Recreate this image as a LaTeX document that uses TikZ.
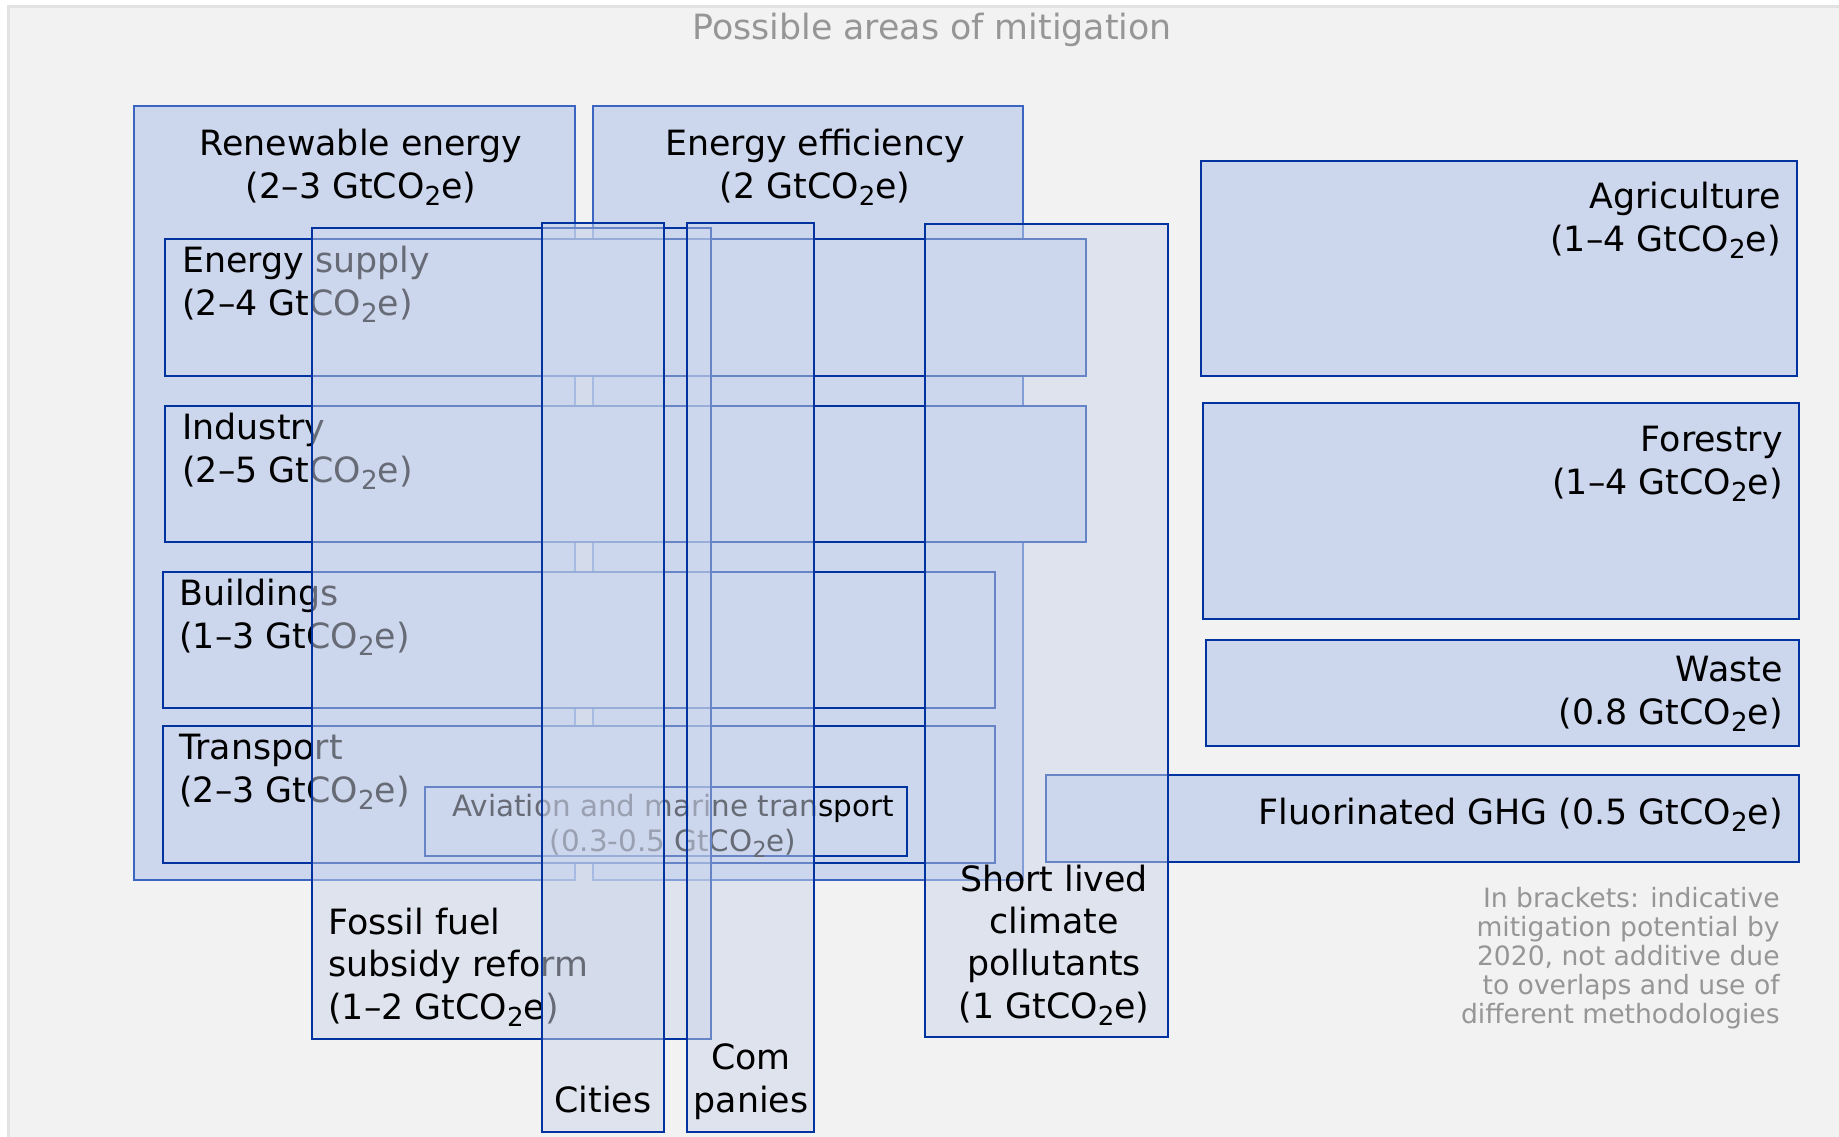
\documentclass[tikz,border=0pt]{standalone}
\usepackage{fontspec}
\usepackage{graphicx}
\setmainfont{DejaVu Sans}
\usetikzlibrary{fit,positioning}

\definecolor{boxfill}{RGB}{204,214,236}
\definecolor{boxline}{RGB}{0,51,160}
\definecolor{outerline}{RGB}{58,102,194}
\definecolor{pagegray}{RGB}{242,242,242}
\definecolor{pageline}{RGB}{226,226,226}
\definecolor{notegray}{RGB}{150,150,150}

\newcommand{\gtco}{GtCO\raisebox{-0.22em}{\scalebox{0.75}{2}}e}

\tikzset{
	area/.style={rectangle, draw=boxline, line width=1.35pt, fill=boxfill, inner sep=0pt},
	outerarea/.style={area, draw=outerline},
	crossarea/.style={area, fill opacity=0.5},
	lbl/.style={inner sep=0pt, text=black, font=\fontsize{17.4}{21.1}\selectfont},
	smalllbl/.style={lbl, font=\fontsize{14.7}{17.5}\selectfont},
	note/.style={inner sep=0pt, text=notegray, font=\fontsize{13.3}{14.5}\selectfont}
}

\begin{document}
\begin{tikzpicture}[x=0.5pt, y=-0.5pt]
	\useasboundingbox (0,0) rectangle (1839,1136);
	\fill[white] (0,0) rectangle (1839,1136);
	\filldraw[fill=pagegray, draw=pageline, line width=1.5pt] (8,6) rectangle (1860,1160);

	\node[lbl, text=notegray, anchor=base] (title) at (932,39) {Possible areas of mitigation};

	% the two wide areas
	\node[outerarea, fit={(134,106) (575,880)}] (ren) {};
	\node[lbl, align=center, anchor=base] (renlbl) at (361,198) {Renewable energy\\(2–3 \gtco)};
	\node[outerarea, fit={(593,106) (1023,880)}] (eff) {};
	\node[lbl, align=center, anchor=base] (efflbl) at (815,198) {Energy efficiency\\(2 \gtco)};

	% sectors
	\node[area, fit={(165,239) (1086,376)}] (sup) {};
	\node[lbl, align=left, anchor=base west] (suplbl) at (182,315) {Energy supply\\(2–4 \gtco)};
	\node[area, fit={(165,406) (1086,542)}] (ind) {};
	\node[lbl, align=left, anchor=base west] (indlbl) at (182,482) {Industry\\(2–5 \gtco)};
	\node[area, fit={(163,572) (995,708)}] (bld) {};
	\node[lbl, align=left, anchor=base west] (bldlbl) at (179,648) {Buildings\\(1–3 \gtco)};
	\node[area, fit={(163,726) (995,863)}] (trn) {};
	\node[lbl, align=left, anchor=base west] (trnlbl) at (179,802) {Transport\\(2–3 \gtco)};
	\node[area, fit={(425,787) (907,856)}] (avi) {};
	\node[smalllbl, align=center, anchor=base] (avilbl) at (673,851) {Aviation and marine transport\\(0.3-0.5 \gtco)};

	% land and other gases
	\node[area, fit={(1201,161) (1797,376)}] (agr) {};
	\node[lbl, align=right, anchor=base east] (agrlbl) at (1781,251) {Agriculture\\(1–4 \gtco)};
	\node[area, fit={(1203,403) (1799,619)}] (for) {};
	\node[lbl, align=right, anchor=base east] (forlbl) at (1783,494) {Forestry\\(1–4 \gtco)};
	\node[area, fit={(1206,640) (1799,746)}] (wst) {};
	\node[lbl, align=right, anchor=base east] (wstlbl) at (1783,724) {Waste\\(0.8 \gtco)};
	\node[area, fit={(1046,775) (1799,862)}] (fgh) {};
	\node[lbl, anchor=base east] (fghlbl) at (1783,824) {Fluorinated GHG (0.5 \gtco)};

	% cross-cutting areas
	\node[crossarea, fit={(312,228) (711,1039)}] (fos) {};
	\node[lbl, align=left, anchor=base west] (foslbl) at (328,1019) {Fossil fuel\\subsidy reform\\(1–2 \gtco)};
	\node[crossarea, fit={(542,223) (664,1132)}] (cit) {};
	\node[lbl, anchor=base] (citlbl) at (603,1112) {Cities};
	\node[crossarea, fit={(687,223) (814,1132)}] (com) {};
	\node[lbl, align=center, anchor=base] (comlbl) at (751,1112) {Com\\panies};
	\node[crossarea, fit={(925,224) (1168,1037)}] (slcp) {};
	\node[lbl, align=center, anchor=base] (slcplbl) at (1054,1018) {Short lived\\climate\\pollutants\\(1 \gtco)};

	\node[note, align=right, anchor=base east] (brackets) at (1780,1023) {In brackets: indicative\\mitigation potential by\\2020, not additive due\\to overlaps and use of\\different methodologies};
\end{tikzpicture}
\end{document}
